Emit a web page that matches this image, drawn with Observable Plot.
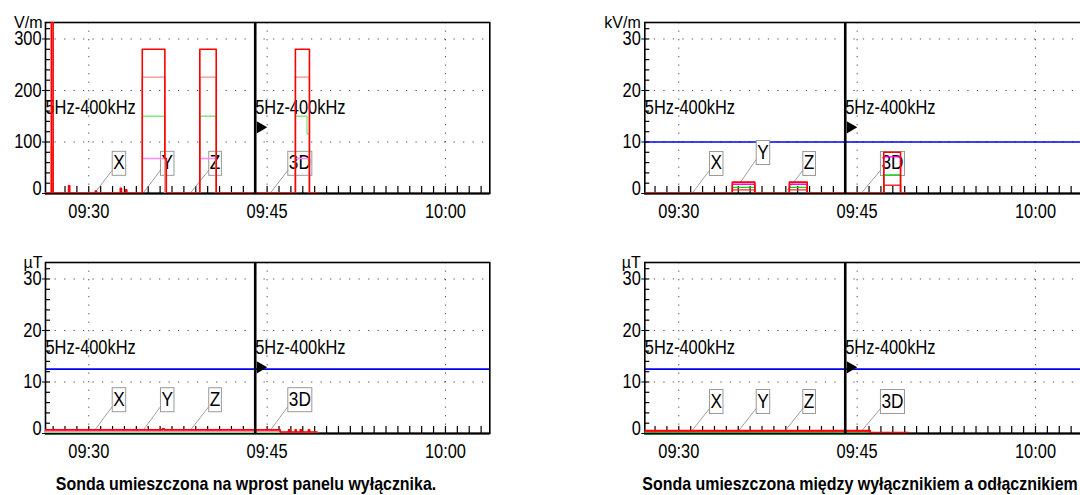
<!DOCTYPE html>
<html><head><meta charset="utf-8">
<script src="https://cdn.jsdelivr.net/npm/d3@7"></script>
<script src="https://cdn.jsdelivr.net/npm/@observablehq/plot@0.6"></script>
<style>
html,body{margin:0;padding:0;}
body{width:1080px;height:495px;overflow:hidden;background:#fff;position:relative;font-family:"Liberation Sans",Arial,sans-serif;}
.panel{position:absolute;width:540px;height:230px;}
.panel svg{max-width:none !important;}
.caption{position:absolute;top:473px;font-weight:bold;font-size:19px;white-space:nowrap;transform:translateX(-50%) scaleX(0.84);transform-origin:50% 50%;color:#000;}
</style></head><body>
<div id="tl" class="panel" style="left:0;top:0"></div>
<div id="bl" class="panel" style="left:0;top:240px"></div>
<div id="tr" class="panel" style="left:590px;top:0"></div>
<div id="br" class="panel" style="left:590px;top:240px"></div>
<div class="caption" style="left:246px">Sonda umieszczona na wprost panelu wyłącznika.</div>
<div class="caption" style="left:860px">Sonda umieszczona między wyłącznikiem a odłącznikiem</div>
<script>
// ---- data (time in minutes after 09:00) ----
const xTickValues = [30, 45, 60];
const xTickLabels = ["09:30", "09:45", "10:00"];
const bandLabel = "5Hz-400kHz";
const cursorTime = 44;
const annotLabels = ["X", "Y", "Z", "3D"];

// top-left: E field, V/m
const tlTime   = [26.36, 26.85, 27.0, 28.3, 28.4, 30.55, 30.65, 32.65, 32.75, 33.1, 33.2, 34.5, 36.4, 36.52, 39.34, 40.72, 47.38, 48.35, 48.56, 49.3];
const tlRed    = [1, 400, 1, 15, 1, 5, 1, 10, 1, 7, 1, 280, 68, 1, 280, 1, 280, 280, 1, 1];
const tlPink   = [0, 90, 0, 0, 0, 0, 0, 0, 0, 0, 0, 226, 0, 0, 226, 0, 226, 226, 0, 0];
const tlGreen  = [0, 20, 0, 0, 0, 0, 0, 0, 0, 0, 0, 150, 0, 0, 150, 0, 150, 116, 0, 0];
const tlViolet = [0, 0, 0, 0, 0, 0, 0, 0, 0, 0, 0, 68, 0, 0, 68, 0, 68, 68, 0, 0];
const tlAnnotBoxTime = [31.97, 36.03, 40.09, 46.74];
const tlAnnotBoxVal  = [45, 45, 45, 45];
const tlAnnotEndTime = [30.5, 34.58, 38.55, 45.28];
const tlAnnotEndVal  = [1, 1, 1, 1];

// top-right: E field, kV/m
const trTime   = [27.14, 34.5, 36.4, 39.3, 40.8, 47.24, 48.65, 49.2];
const trRed    = [0.05, 2.2, 0.05, 2.2, 0.05, 8.0, 0.05, 0.05];
const trPink   = [0, 0.7, 0, 0.7, 0, 1.6, 0, 0];
const trGreen  = [0, 1.2, 0, 1.2, 0, 3.6, 0, 0];
const trViolet = [0, 1.8, 0, 1.8, 0, 7.1, 0, 0];
const trLimit  = 10;
const trAnnotBoxTime = [32.58, 36.51, 40.43, 46.96];
const trAnnotBoxVal  = [4.47, 6.6, 4.47, 4.47];
const trAnnotEndTime = [31.13, 35.19, 39.12, 45.42];
const trAnnotEndVal  = [0.05, 2.2, 0.6, 0.25];

// bottom-left: B field, uT
const blTime   = [26.36, 36.2, 36.35, 46.1, 46.8, 46.9, 47.36, 47.45, 47.78, 47.88, 48.48, 48.58, 49.2];
const blRed    = [0.7, 0.9, 0.7, 0.3, 0.7, 0.3, 0.7, 0.3, 0.7, 0.3, 0.7, 0.3, 0.3];
const blPink   = [0.5, 0.5, 0.5, 0.2, 0.2, 0.2, 0.2, 0.2, 0.2, 0.2, 0.2, 0.2, 0.2];
const blGreen  = [0.15, 0.15, 0.15, 0.15, 0.15, 0.15, 0.15, 0.15, 0.15, 0.15, 0.15, 0.15, 0.15];
const blViolet = [0.35, 0.35, 0.35, 0.15, 0.15, 0.15, 0.15, 0.15, 0.15, 0.15, 0.15, 0.15, 0.15];
const blLimit  = 12.5;
const blAnnotBoxTime = [31.97, 36.03, 40.09, 46.74];
const blAnnotBoxVal  = [5.2, 5.2, 5.2, 5.2];
const blAnnotEndTime = [30.5, 34.58, 38.55, 45.28];
const blAnnotEndVal  = [0.65, 0.65, 0.65, 0.65];

// bottom-right: B field, uT
const brTime   = [27.14, 46.1, 49.3];
const brRed    = [0.55, 0.2, 0.2];
const brPink   = [0.4, 0.15, 0.15];
const brGreen  = [0.12, 0.1, 0.1];
const brViolet = [0.3, 0.12, 0.12];
const brLimit  = 12.5;
const brAnnotBoxTime = [32.58, 36.51, 40.43, 46.96];
const brAnnotBoxVal  = [4.85, 4.85, 4.85, 4.85];
const brAnnotEndTime = [31.13, 35.05, 38.97, 45.42];
const brAnnotEndVal  = [0.6, 0.6, 0.6, 0.6];

// ---- drawing ----
const FONT = '"Liberation Sans",Arial,sans-serif';
const NARROW = 0.82;
const W = 540, H = 230, MT = 22, MB = 37, PW = 444.3, PH = H - MT - MB;
const SPAN = 37.37;

function series(time, vals) { return time.map((t, i) => ({t, v: vals[i]})); }

function panel(el, cfg) {
  const {time, red, pink, green, violet, x0, yMax, unit, unitDx, limit, yTicks,
         marginLeft, colors, annot} = cfg;
  const xDomain = [x0, x0 + SPAN];
  const minutesPerPx = SPAN / PW, unitsPerPx = yMax / PH;
  const minorX = d3.range(Math.ceil(x0), x0 + SPAN, 1);
  const minorY = d3.range(0, yMax, (yTicks[1] - yTicks[0]) / 5);
  const annots = annotLabels.map((label, i) => ({label, bt: annot.bt[i], bv: annot.bv[i], et: annot.et[i], ev: annot.ev[i]}));
  const marks = [
    Plot.ruleY(yTicks.slice(1), {stroke: "#555", strokeDasharray: "1.3,8.2"}),
    Plot.ruleX(xTickValues, {stroke: "#555", strokeDasharray: "1.3,7.2"}),
    Plot.ruleX(minorX, {y1: 0, y2: 7 * unitsPerPx, stroke: "#000", strokeWidth: 1.2}),
    Plot.ruleY(minorY, {x1: x0, x2: x0 + 5 * minutesPerPx, stroke: "#000", strokeWidth: 1.2}),
  ];
  if (limit != null) marks.push(Plot.ruleY([limit], {stroke: "#0000ee", strokeWidth: 1.6}));
  marks.push(
    Plot.text([x0, cursorTime], {x: d => d, y: () => yMax * 0.5, text: () => bandLabel, textAnchor: "start", lineAnchor: "middle", fontSize: 20, fill: "#000"}),
    Plot.text(annots, {x: "bt", y: "bv", text: "label", textAnchor: "start", lineAnchor: "bottom", dx: 1, dy: -1, fontSize: 21, fill: "#000", ariaLabel: () => "annot"}),
    Plot.link(annots, {x1: "et", y1: "ev", x2: "bt", y2: "bv", stroke: "#888", strokeWidth: 0.8}),
    Plot.frame({stroke: "#000", strokeWidth: 1.6}),
    Plot.ruleY([0], {stroke: "#000", strokeWidth: 2}),
    Plot.line(series(time, violet), {x: "t", y: "v", curve: "step-after", stroke: colors[3], strokeWidth: 1.3, clip: true}),
    Plot.line(series(time, green), {x: "t", y: "v", curve: "step-after", stroke: colors[2], strokeWidth: 1.3, clip: true}),
    Plot.line(series(time, pink), {x: "t", y: "v", curve: "step-after", stroke: colors[1], strokeWidth: 1.3, clip: true}),
    Plot.line(series(time, red), {x: "t", y: "v", curve: "step-after", stroke: colors[0], strokeWidth: 1.6, clip: true}),
    Plot.ruleX([cursorTime], {stroke: "#000", strokeWidth: 2.6}),
    Plot.dot([cursorTime], {x: d => d, y: () => yMax * 0.387, symbol: "triangle", rotate: 90, r: 4.5, fill: "#000", stroke: "none", dx: 5}),
    Plot.axisX(xTickValues, {tickSize: 0, tickPadding: 10, fontSize: 20, label: null, tickFormat: d => xTickLabels[xTickValues.indexOf(d)]}),
    Plot.axisY(yTicks, {tickSize: 3, tickFormat: () => "", label: null}),
    Plot.axisY(yTicks.slice(1), {tickSize: 0, tickPadding: 4, fontSize: 20, label: null, tickFormat: d => String(d)}),
    Plot.axisY([0], {tickSize: 0, tickPadding: 4, dy: -5, fontSize: 20, label: null, tickFormat: d => String(d)}),
    Plot.text([unit], {frameAnchor: "top-left", textAnchor: "end", lineAnchor: "middle", dx: unitDx, dy: 0, fontSize: 16, fill: "#000", ariaLabel: () => "unit"})
  );
  const chart = Plot.plot({
    width: W, height: H, marginTop: MT, marginBottom: MB, marginLeft,
    marginRight: W - marginLeft - PW,
    x: {domain: xDomain, label: null},
    y: {domain: [0, yMax], label: null},
    style: {fontFamily: FONT, fontSize: "20px", background: "transparent", overflow: "visible", color: "#000", maxWidth: "none"},
    marks
  });
  document.getElementById(el).appendChild(chart);
  // narrow the sans glyphs (Arial Narrow look)
  chart.querySelectorAll("text").forEach(t => {
    if (t.getAttribute("aria-label") === "unit") return;
    const len = t.getComputedTextLength();
    if (len > 0) {
      t.setAttribute("textLength", len * NARROW);
      t.setAttribute("lengthAdjust", "spacingAndGlyphs");
    }
  });
  chart.querySelectorAll('text[aria-label="annot"]').forEach(t => {
    const b = t.getBBox();
    const r = document.createElementNS("http://www.w3.org/2000/svg", "rect");
    r.setAttribute("x", b.x - 1); r.setAttribute("y", b.y + 1);
    r.setAttribute("width", b.width + 2); r.setAttribute("height", b.height + 1);
    r.setAttribute("fill", "#fff"); r.setAttribute("stroke", "#999"); r.setAttribute("stroke-width", 1);
    if (t.getAttribute("transform")) r.setAttribute("transform", t.getAttribute("transform"));
    t.parentNode.insertBefore(r, t);
  });
}

const warmColors = ["#ff0000", "#ff8a8a", "#7ee87e", "#ff88ff"];
const hotColors  = ["#ff0000", "#ff2a2a", "#00dd00", "#ff00ff"];

panel("tl", {time: tlTime, red: tlRed, pink: tlPink, green: tlGreen, violet: tlViolet,
  x0: 26.36, yMax: 332, unit: "V/m", unitDx: -3, limit: null, yTicks: [0, 100, 200, 300],
  marginLeft: 45, colors: warmColors,
  annot: {bt: tlAnnotBoxTime, bv: tlAnnotBoxVal, et: tlAnnotEndTime, ev: tlAnnotEndVal}});
panel("bl", {time: blTime, red: blRed, pink: blPink, green: blGreen, violet: blViolet,
  x0: 26.36, yMax: 33.2, unit: "µT", unitDx: -3, limit: blLimit, yTicks: [0, 10, 20, 30],
  marginLeft: 45, colors: warmColors,
  annot: {bt: blAnnotBoxTime, bv: blAnnotBoxVal, et: blAnnotEndTime, ev: blAnnotEndVal}});
panel("tr", {time: trTime, red: trRed, pink: trPink, green: trGreen, violet: trViolet,
  x0: 27.14, yMax: 33.2, unit: "kV/m", unitDx: -4, limit: trLimit, yTicks: [0, 10, 20, 30],
  marginLeft: 54.3, colors: hotColors,
  annot: {bt: trAnnotBoxTime, bv: trAnnotBoxVal, et: trAnnotEndTime, ev: trAnnotEndVal}});
panel("br", {time: brTime, red: brRed, pink: brPink, green: brGreen, violet: brViolet,
  x0: 27.14, yMax: 33.2, unit: "µT", unitDx: -4, limit: brLimit, yTicks: [0, 10, 20, 30],
  marginLeft: 54.3, colors: hotColors,
  annot: {bt: brAnnotBoxTime, bv: brAnnotBoxVal, et: brAnnotEndTime, ev: brAnnotEndVal}});
</script>
</body></html>
